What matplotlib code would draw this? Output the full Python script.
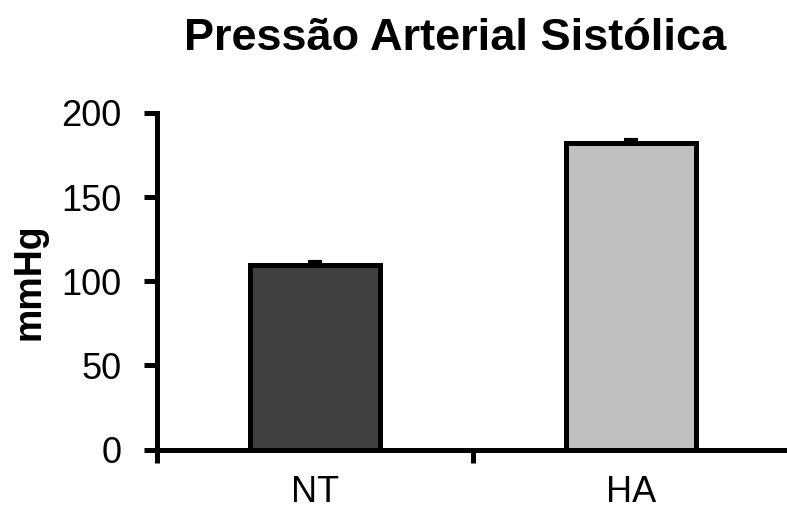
import matplotlib
matplotlib.use("Agg")
import matplotlib.pyplot as plt

plt.rcParams['font.family'] = ['Liberation Sans', 'DejaVu Sans']

groups = ["NT", "HA"]
pressure_mean = [109.5, 182.0]
pressure_err = [2.0, 1.8]
bar_colors = ["#404040", "#c0c0c0"]
y_ticks = [0, 50, 100, 150, 200]

fig = plt.figure(figsize=(7.87, 5.11), dpi=100)
ax = fig.add_axes([157 / 787, 1 - 449.5 / 511, 632 / 787, (449.5 - 113) / 511])

x = list(range(len(groups)))
lw = 3.6
ax.bar(x, pressure_mean, width=0.41, color=bar_colors, edgecolor="black",
       linewidth=lw, zorder=2)
ax.errorbar(x, pressure_mean, yerr=[[0, 0], pressure_err], fmt="none",
            ecolor="black", elinewidth=2.5, capsize=4.7, capthick=3, zorder=3)

ax.set_xlim(-0.5, 1.5)
ax.set_ylim(0, 200)
ax.set_yticks(y_ticks)
ax.set_xticks(x)
ax.set_xticklabels(groups)
ax.set_xticks([-0.5, 0.5, 1.5], minor=True)

for side in ("top", "right"):
    ax.spines[side].set_visible(False)
for side in ("left", "bottom"):
    ax.spines[side].set_linewidth(lw)
    ax.spines[side].set_capstyle("projecting")

ax.tick_params(axis="y", direction="out", length=9.4, width=lw, labelsize=26, pad=16)
ax.tick_params(axis="x", which="major", length=0, labelsize=26, pad=18)
ax.tick_params(axis="x", which="minor", direction="out", length=9.4, width=lw)

ax.set_ylabel("mmHg", fontsize=27, fontweight="bold", labelpad=10)
fig.text(455 / 787, 1 - 38 / 511, "Pressão Arterial Sistólica", fontsize=32.5,
         fontweight="bold", ha="center", va="center")

fig.savefig("out.png", dpi=100)
